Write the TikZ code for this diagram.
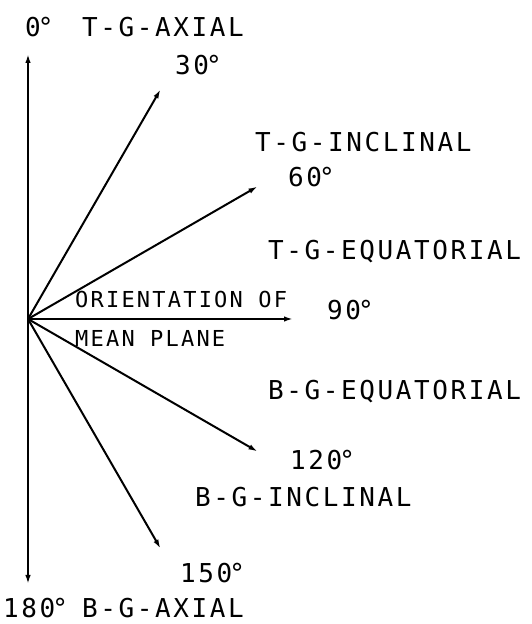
\documentclass[tikz,border=0pt]{standalone}
\usepackage{fontspec}
\usetikzlibrary{arrows.meta}
\newfontfamily\plotfont[LetterSpace=10]{DejaVu Sans Mono}
\newcommand{\dg}{\kern-0.12em°}
\begin{document}
\begin{tikzpicture}[>={Latex[length=9pt,width=5.5pt]}, x=1pt, y=1pt,
    lab/.style={anchor=base west, inner sep=0pt, font={\plotfont\fontsize{26}{26}\selectfont}},
    smalllab/.style={anchor=base west, inner sep=0pt, font={\plotfont\fontsize{22}{22}\selectfont}}]
    \useasboundingbox (0,0) rectangle (532,624);
    % Origin of the orientations
    \coordinate (O) at (28,305);
    % Arrows every 30 degrees
    \foreach \d in {0,30,...,180}
        \draw[->, line width=2pt] (O) -- ++({90-\d}:265) coordinate (t\d);
    % Angles
    \node[lab] (d0) at (25,587) {0\dg};
    \node[lab] (d30) at (175,549) {30\dg};
    \node[lab] (d60) at (288,437) {60\dg};
    \node[lab] (d90) at (327,304) {90\dg};
    \node[lab] (d120) at (290,154) {120\dg};
    \node[lab] (d150) at (180,41) {150\dg};
    \node[lab] (d180) at (3,6) {180\dg};
    % Names of the conformations
    \node[lab] (tga) at (82,587) {T-G-AXIAL};
    \node[lab] (tgi) at (255,472) {T-G-INCLINAL};
    \node[lab] (tge) at (268,364) {T-G-EQUATORIAL};
    \node[lab] (bge) at (268,224) {B-G-EQUATORIAL};
    \node[lab] (bgi) at (195,117) {B-G-INCLINAL};
    \node[lab] (bga) at (82,6) {B-G-AXIAL};
    % Label on the 90 degree arrow
    \node[smalllab] (ori) at (75,316) {ORIENTATION OF};
    \node[smalllab] (mp) at (75,277) {MEAN PLANE};
\end{tikzpicture}
\end{document}
